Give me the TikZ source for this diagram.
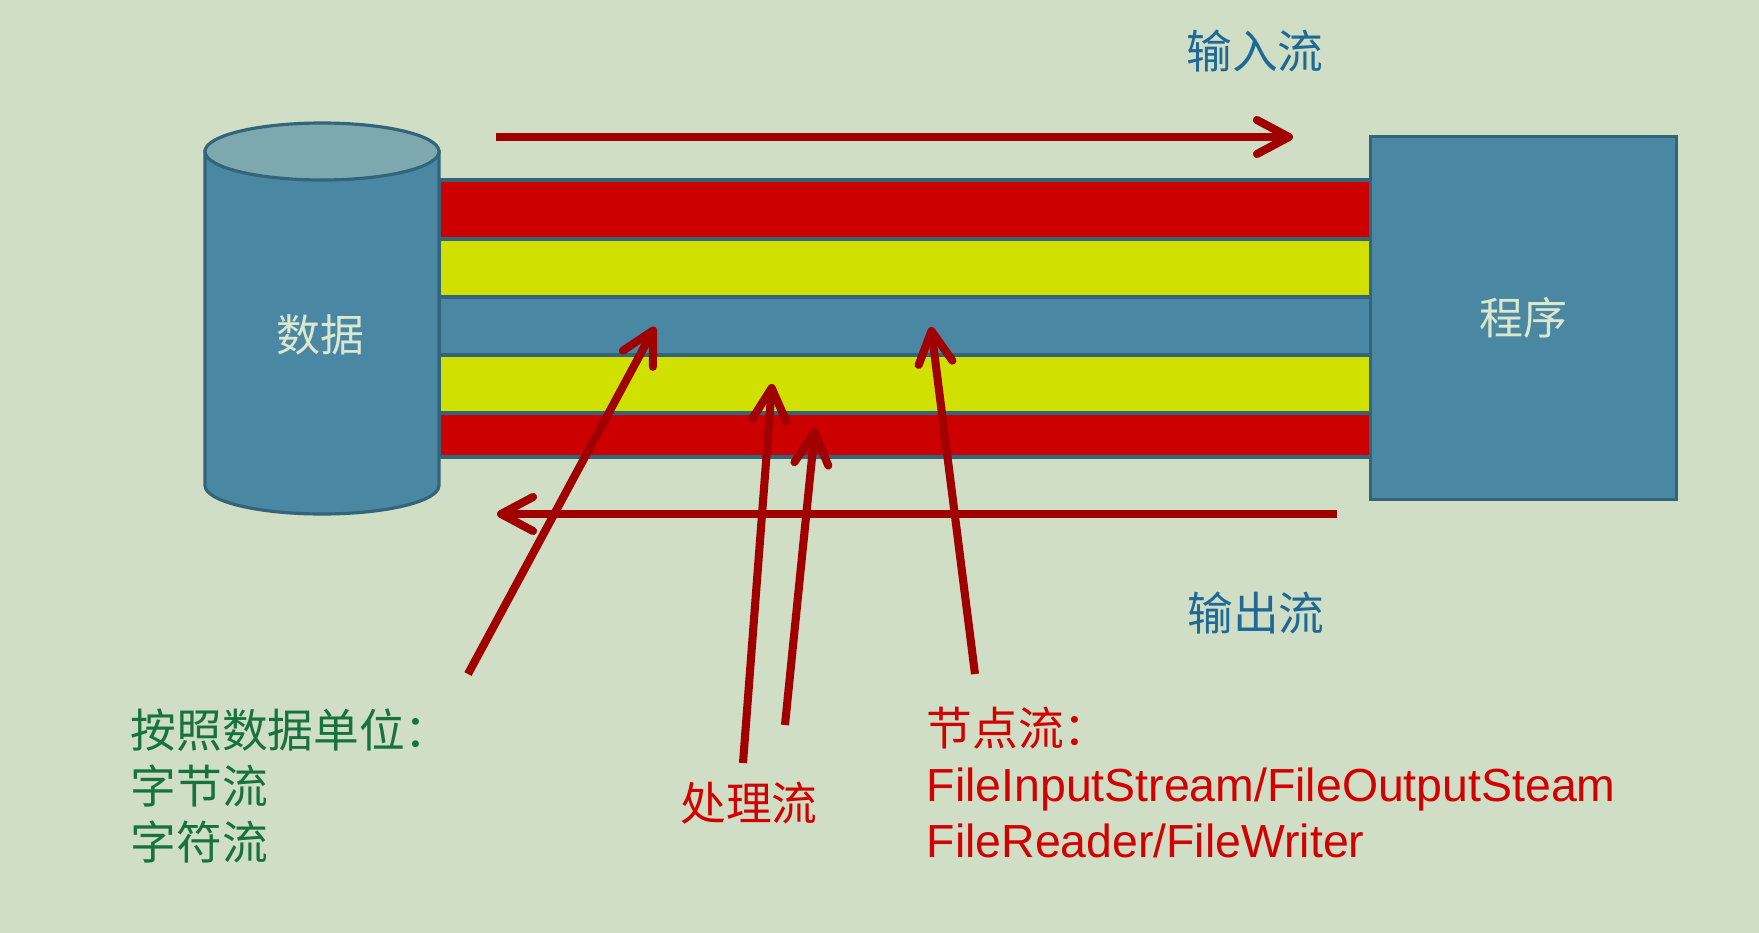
\documentclass[tikz,border=0pt]{standalone}
\usepackage{fontspec}
\newfontfamily\cjk{Noto Sans CJK SC}
\newfontfamily\latin{Liberation Sans}
\usetikzlibrary{arrows.meta}
\definecolor{bg}{RGB}{207,222,196}
\definecolor{cylbody}{RGB}{74,135,163}
\definecolor{cyltop}{RGB}{125,168,175}
\definecolor{edge}{RGB}{50,100,122}
\definecolor{stripered}{RGB}{204,0,0}
\definecolor{stripeyel}{RGB}{208,224,0}
\definecolor{arrowred}{RGB}{160,0,0}
\definecolor{txtblue}{RGB}{30,105,150}
\definecolor{txtgreen}{RGB}{22,115,60}
\definecolor{txtred}{RGB}{210,0,0}
\definecolor{txtpale}{RGB}{220,232,205}
\tikzset{
  flow/.style={draw=arrowred, line width=2.3pt, -{Straight Barb[length=3.2mm,width=3.4mm,round]}},
  band/.style={draw=edge, line width=0.9pt},
  cjklabel/.style={inner sep=0pt, font=\cjk\fontsize{12.5}{15.9}\selectfont},
  biglabel/.style={cjklabel, font=\cjk\fontsize{13}{15.9}\selectfont},
}
\begin{document}
\begin{tikzpicture}[x=0.01cm, y=-0.01cm]
        \fill[bg] (0,0) rectangle (1759,933);
        \useasboundingbox (0,0) rectangle (1759,933);
        \draw[band, fill=stripered] (439,180) rectangle (1371,239);
        \draw[band, fill=stripeyel] (439,239) rectangle (1371,297);
        \draw[band, fill=cylbody] (439,297) rectangle (1371,355);
        \draw[band, fill=stripeyel] (439,355) rectangle (1371,413);
        \draw[band, fill=stripered] (439,413) rectangle (1371,457);
        \draw[band, fill=cylbody] (205,151.5) -- (205,485.5) arc[start angle=180, end angle=0, x radius=117, y radius=28.5] -- (439,151.5) -- cycle;
        \draw[band, fill=cyltop] (322,151.5) ellipse[x radius=117, y radius=28.5];
        \node[cjklabel, text=txtpale] (data) at (320,335) {数据};
        \node[band, fill=cylbody, cjklabel, text=txtpale, minimum width=3.05cm, minimum height=3.62cm] (prog) at (1523.5,318) {程序};
        \coordinate (in tail) at (496,137);
        \coordinate (in head) at (1293,137);
        \coordinate (out tail) at (1337,514);
        \coordinate (out head) at (497,514);
        \draw[flow] (in tail) -- (in head);
        \draw[flow] (out tail) -- (out head);
        \coordinate (unit tail) at (468,674);
        \coordinate (unit head) at (655,327);
        \coordinate (procA tail) at (743,763);
        \coordinate (procA head) at (772,384);
        \coordinate (procB tail) at (785,725);
        \coordinate (procB head) at (815,428);
        \coordinate (node tail) at (975,674);
        \coordinate (node head) at (931,327);
        \draw[flow] (unit tail) -- (unit head);
        \draw[flow] (procA tail) -- (procA head);
        \draw[flow] (procB tail) -- (procB head);
        \draw[flow] (node tail) -- (node head);
        \node[biglabel, text=txtblue] (inlabel) at (1255,51) {输入流};
        \node[biglabel, text=txtblue] (outlabel) at (1256,613) {输出流};
        \node[biglabel, text=txtred] (proclabel) at (749,803) {处理流};
        \node[biglabel, text=txtgreen, align=left, anchor=base west] (unitlabel) at (130,859) {按照数据单位：\\字节流\\字符流};
        \node[biglabel, text=txtred, align=left, anchor=base west] (nodelabel) at (926,857) {节点流：\\{\latin\fontsize{13.2}{15.9}\selectfont FileInputStream/FileOutputSteam}\\{\latin\fontsize{13.2}{15.9}\selectfont FileReader/FileWriter}};
      \end{tikzpicture}
\end{document}
